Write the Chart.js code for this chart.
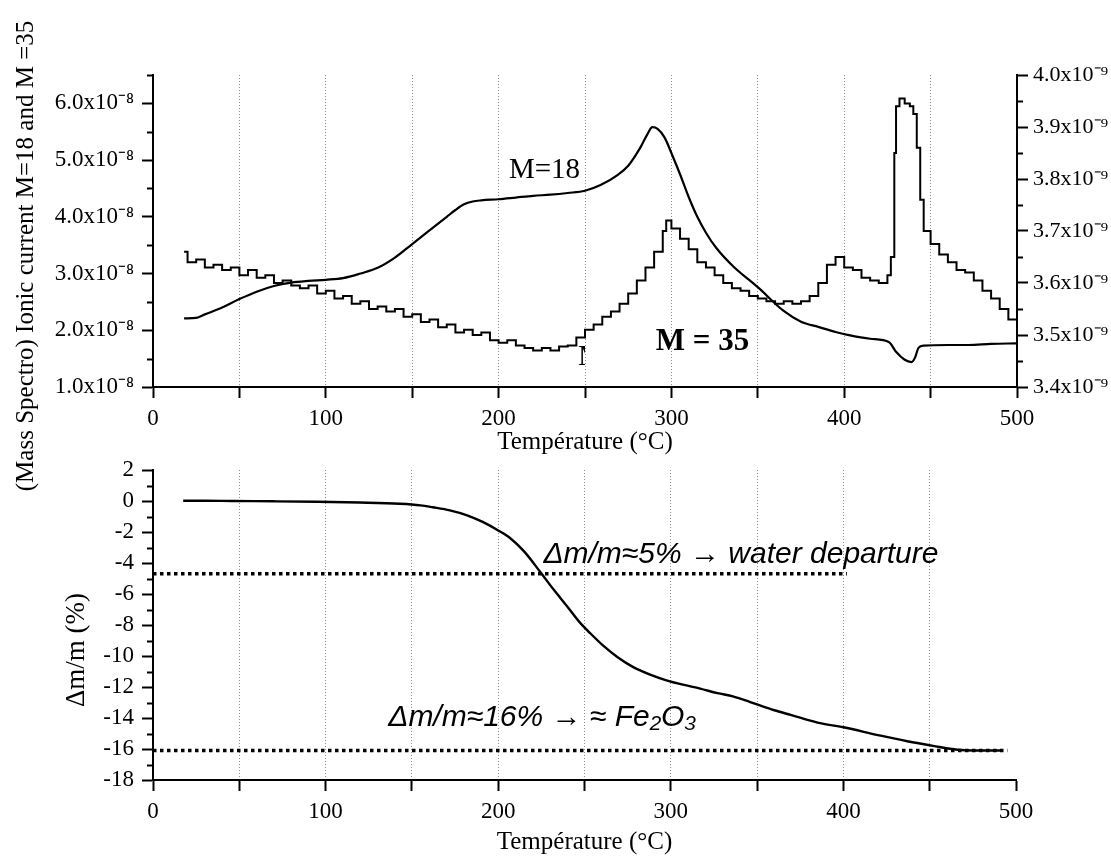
<!DOCTYPE html>
<html>
<head>
<meta charset="utf-8">
<script src="https://cdn.jsdelivr.net/npm/chart.js@4.4.0/dist/chart.umd.min.js"></script>
<style>
  html, body { margin: 0; padding: 0; background: #fff; }
  #wrap { position: relative; width: 1111px; height: 858px; }
  canvas { position: absolute; left: 0; top: 0; }
</style>
</head>
<body>
<div id="wrap">
  <canvas id="msChart" width="1111" height="858"></canvas>
  <canvas id="tgChart" width="1111" height="858"></canvas>
</div>
<script>
// ---- mass spectro, M=18 (left axis, x1e-8 A) ----
const m18Temp = [18, 25, 30, 40, 50, 60, 70, 80, 90, 100,
  110, 120, 130, 140, 150, 160, 170, 175, 180, 185,
  190, 200, 210, 220, 230, 240, 250, 259, 269, 275,
  282, 286, 289, 292, 296, 301, 305, 310, 315, 320,
  326, 336, 350, 365, 375, 385, 395, 402, 415, 426,
  430, 435, 439, 441, 443, 446, 460, 472, 485, 500];
const m18Current = [2.21, 2.22, 2.28, 2.40, 2.55, 2.68, 2.78, 2.84, 2.87, 2.89,
  2.92, 3.00, 3.10, 3.28, 3.52, 3.76, 4.00, 4.12, 4.22, 4.27,
  4.29, 4.31, 4.34, 4.37, 4.39, 4.42, 4.46, 4.56, 4.74, 4.90,
  5.22, 5.45, 5.58, 5.55, 5.40, 5.05, 4.75, 4.35, 4.00, 3.72,
  3.45, 3.12, 2.76, 2.34, 2.15, 2.06, 1.97, 1.92, 1.85, 1.79,
  1.62, 1.48, 1.44, 1.52, 1.69, 1.73, 1.74, 1.74, 1.76, 1.77];

// ---- mass spectro, M=35 (right axis, x1e-9 A) ----
const m35Temp = [18, 20,
  25, 30, 35, 40, 45, 50, 55, 60, 65, 70, 75, 80, 85, 90, 95, 100, 105, 110, 115, 120,
  125, 130, 135, 140, 145, 150, 155, 160, 165, 170, 175, 180, 185, 190, 195, 200, 205, 210,
  215, 220, 225, 230, 235, 240, 245, 250, 255, 260, 265, 270, 275, 280, 285, 290, 295,
  297,
  300, 305, 310, 315, 320, 325, 330, 335, 340, 345, 350, 355, 360, 365, 370, 375, 380,
  385, 390, 395, 400, 405, 410, 415, 420, 425,
  427, 429, 430, 432, 435, 438, 440, 442, 444, 446,
  450, 455, 460, 465, 470, 475, 480, 485, 490, 495, 500];
const m35Current = [3.66, 3.64,
  3.645, 3.63, 3.635, 3.625, 3.63, 3.615, 3.625, 3.61, 3.615, 3.60, 3.605, 3.595, 3.59, 3.595, 3.58, 3.585, 3.57, 3.575, 3.56, 3.565,
  3.55, 3.555, 3.545, 3.55, 3.535, 3.54, 3.525, 3.53, 3.515, 3.52, 3.505, 3.51, 3.50, 3.505, 3.49, 3.485, 3.49, 3.48,
  3.475, 3.47, 3.475, 3.47, 3.478, 3.48, 3.495, 3.51, 3.52, 3.535, 3.545, 3.56, 3.58, 3.605, 3.63, 3.66, 3.70,
  3.72,
  3.705, 3.685, 3.665, 3.64, 3.63, 3.615, 3.60, 3.59, 3.585, 3.575, 3.57, 3.565, 3.56, 3.565, 3.56, 3.565, 3.575,
  3.60, 3.635, 3.65, 3.63, 3.625, 3.61, 3.605, 3.60, 3.615,
  3.65, 3.85, 3.94, 3.955, 3.945, 3.94, 3.925, 3.86, 3.76, 3.70,
  3.675, 3.655, 3.64, 3.625, 3.62, 3.605, 3.585, 3.57, 3.55, 3.53, 3.51];

// ---- thermogravimetry, dm/m (%) ----
const tgTemp = [17.5, 30, 46, 70, 95, 120, 143, 155, 162, 172,
  182, 191, 200, 207, 215, 224.5, 232, 240, 247, 253.5,
  261, 269, 278, 288, 297, 307, 317, 327, 336, 346,
  360, 369.5, 385, 400, 420, 437, 452, 466, 475, 491];
const tgMassLoss = [0.02, 0.02, 0, -0.02, -0.05, -0.1, -0.18, -0.28, -0.4, -0.6,
  -0.92, -1.35, -1.9, -2.4, -3.25, -4.6, -5.7, -6.8, -7.8, -8.55,
  -9.35, -10.06, -10.7, -11.2, -11.55, -11.85, -12.1, -12.4, -12.6, -12.97,
  -13.5, -13.8, -14.3, -14.6, -15.1, -15.5, -15.8, -16.05, -16.1, -16.1];

// reference levels (dotted lines)
const waterLineTemp = [0, 402];
const waterLineLevel = [-4.7, -4.7];
const oxideLineTemp = [0, 495];
const oxideLineLevel = [-16.1, -16.1];

const serif = "'Liberation Serif', 'Times New Roman', serif";
const sans = "'Liberation Sans', Arial, sans-serif";
Chart.defaults.font.family = serif;
Chart.defaults.color = '#000';

function pts(xs, ys) {
  return xs.map((x, i) => ({ x: x, y: ys[i] }));
}
function isWhole(v, unit) {
  return Math.abs(v / unit - Math.round(v / unit)) < 1e-6;
}

// minor ticks, free texts and rotated titles
const annotate = {
  id: 'annotate',
  afterDraw(chart, args, opts) {
    const ctx = chart.ctx;
    ctx.save();
    ctx.fillStyle = '#000';
    ctx.strokeStyle = '#000';
    (opts.minor || []).forEach(m => {
      const s = chart.scales[m.axis];
      ctx.lineWidth = 2;
      s.ticks.forEach(t => {
        if (isWhole(t.value, m.unit)) return;
        const y = Math.round(s.getPixelForValue(t.value)) + 0.5;
        const x0 = m.side === 'left' ? s.right : s.left;
        const x1 = m.side === 'left' ? x0 - 6 : x0 + 6;
        ctx.beginPath();
        ctx.moveTo(x0, y);
        ctx.lineTo(x1, y);
        ctx.stroke();
      });
    });
    (opts.texts || []).forEach(t => {
      const x = chart.scales.x.getPixelForValue(t.x);
      const y = chart.scales[t.axis].getPixelForValue(t.y);
      ctx.save();
      ctx.font = t.font;
      ctx.textAlign = 'left';
      ctx.textBaseline = 'alphabetic';
      if (t.clipWidth) {
        ctx.beginPath();
        ctx.rect(x - 2, y - 40, t.clipWidth, 50);
        ctx.clip();
      }
      ctx.fillText(t.text, x, y);
      ctx.restore();
    });
    (opts.vtitles || []).forEach(t => {
      ctx.save();
      ctx.font = t.font;
      ctx.translate(t.cx, t.cy);
      ctx.rotate(-Math.PI / 2);
      ctx.textAlign = 'center';
      ctx.textBaseline = 'middle';
      ctx.fillText(t.text, 0, 0);
      ctx.restore();
    });
    ctx.restore();
  }
};

function tempAxis(titlePad) {
  return {
    type: 'linear', position: 'bottom', min: 0, max: 500,
    afterFit: s => { s.height = 78; },
    ticks: {
      stepSize: 50, autoSkip: false, maxRotation: 0, padding: 7,
      font: { size: 23, lineHeight: 1.2 },
      callback: v => (v % 100 === 0 ? String(v) : '')
    },
    grid: {
      color: c => (c.tick && c.tick.value > 0 && c.tick.value < 500) ? 'rgba(0,0,0,0.45)' : 'rgba(0,0,0,0)',
      lineWidth: 1, tickLength: 11, tickColor: '#000', tickWidth: 2
    },
    border: { color: '#000', width: 2, dash: [1, 2] },
    title: {
      display: true, text: 'Température (°C)',
      font: { size: 25, lineHeight: 1.2 }, padding: { top: 0, bottom: titlePad }
    }
  };
}

function valueAxis(pos, width, min, max, step, unit, fmt, pad, size) {
  return {
    type: 'linear', position: pos, min: min, max: max,
    afterFit: s => { s.width = width; },
    ticks: {
      stepSize: step, autoSkip: false, padding: pad,
      font: { size: size, lineHeight: 1.2 },
      callback: v => (isWhole(v, unit) ? fmt(v) : '')
    },
    grid: {
      drawOnChartArea: false, tickLength: 11, tickWidth: 2,
      tickColor: c => (c.tick && isWhole(c.tick.value, unit)) ? '#000' : 'rgba(0,0,0,0)'
    },
    border: { color: '#000', width: 2 }
  };
}

const line = { borderColor: '#000', pointRadius: 0, fill: false };

new Chart(document.getElementById('msChart'), {
  type: 'line',
  data: {
    datasets: [
      Object.assign({ label: 'M=18', data: pts(m18Temp, m18Current), yAxisID: 'yLeft',
        borderWidth: 2.2, cubicInterpolationMode: 'monotone' }, line),
      Object.assign({ label: 'M=35', data: pts(m35Temp, m35Current), yAxisID: 'yRight',
        borderWidth: 2, stepped: true }, line)
    ]
  },
  options: {
    responsive: false, animation: false,
    layout: { padding: { top: 75, bottom: 858 - 465, left: 0, right: 0 } },
    plugins: {
      legend: { display: false }, tooltip: { enabled: false },
      annotate: {
        minor: [{ axis: 'yLeft', unit: 1, side: 'left' }, { axis: 'yRight', unit: 0.1, side: 'right' }],
        texts: [
          { text: 'M=18', x: 206, y: 4.68, axis: 'yLeft', font: '29px ' + serif },
          { text: 'M = 35', x: 291, y: 1.65, axis: 'yLeft', font: 'bold 31px ' + serif },
          { text: 'M', x: 246, y: 1.39, axis: 'yLeft', font: '30px ' + serif, clipWidth: 9 }
        ],
        vtitles: [
          { text: '(Mass Spectro) Ionic current M=18 and M =35', cx: 26, cy: 256, font: '25px ' + serif }
        ]
      }
    },
    scales: {
      x: tempAxis(8),
      yLeft: valueAxis('left', 153, 1, 6.5, 0.5, 1, v => v.toFixed(1) + 'x10\u207B\u2078', 8, 23),
      yRight: valueAxis('right', 94, 3.4, 4.0, 0.05, 0.1, v => v.toFixed(1) + 'x10\u207B\u2079', 5, 22)
    }
  },
  plugins: [annotate]
});

const dotted = { borderColor: '#000', borderWidth: 3.5, borderDash: [3.5, 3.5], borderCapStyle: 'butt',
  pointRadius: 0, fill: false, tension: 0 };

new Chart(document.getElementById('tgChart'), {
  type: 'line',
  data: {
    datasets: [
      Object.assign({ label: 'water', data: pts(waterLineTemp, waterLineLevel) }, dotted),
      Object.assign({ label: 'oxide', data: pts(oxideLineTemp, oxideLineLevel) }, dotted),
      Object.assign({ label: 'dm/m', data: pts(tgTemp, tgMassLoss), borderWidth: 2.4,
        cubicInterpolationMode: 'monotone' }, line)
    ]
  },
  options: {
    responsive: false, animation: false,
    layout: { padding: { top: 470, bottom: 0, left: 0, right: 95 } },
    plugins: {
      legend: { display: false }, tooltip: { enabled: false },
      annotate: {
        minor: [{ axis: 'y', unit: 2, side: 'left' }],
        texts: [
          { text: '\u0394m/m\u22485% \u2192 water departure', x: 226.2, y: -4.0, axis: 'y', font: 'italic 30px ' + sans },
          { text: '\u0394m/m\u224816% \u2192 \u2248 Fe\u2082O\u2083', x: 136.3, y: -14.5, axis: 'y', font: 'italic 30px ' + sans }
        ],
        vtitles: [
          { text: '\u0394m/m (%)', cx: 77, cy: 650, font: '27px ' + serif }
        ]
      }
    },
    scales: {
      x: tempAxis(1),
      y: valueAxis('left', 153, -18, 2, 1, 2, v => String(v), 8, 23)
    }
  },
  plugins: [annotate]
});
</script>
</body>
</html>
